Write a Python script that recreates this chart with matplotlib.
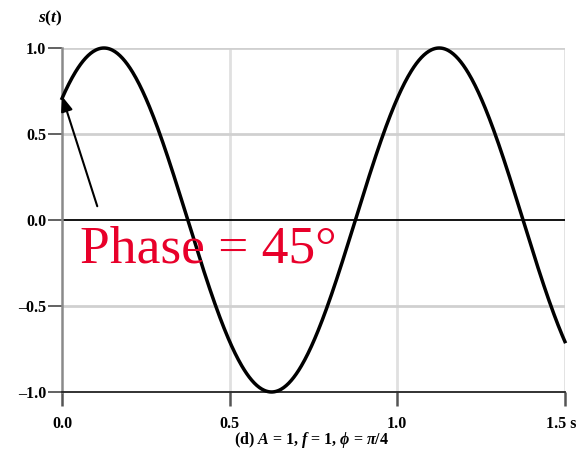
import numpy as np
import matplotlib
matplotlib.use("Agg")
import matplotlib.pyplot as plt
import matplotlib.transforms as mtransforms

# Parameters from the caption (d) A = 1, f = 1, phi = pi/4
A = 1.0
f = 1.0
phi = np.pi / 4
t_range = [0.0, 1.5]
xticks = [0.0, 0.5, 1.0, 1.5]
xtick_labels = ["0.0", "0.5", "1.0", "1.5 s"]
yticks = [-1.0, -0.5, 0.0, 0.5, 1.0]
ytick_labels = ["\u20131.0", "\u20130.5", "0.0", "0.5", "1.0"]

plt.rcParams['mathtext.fontset'] = 'custom'
plt.rcParams['mathtext.rm'] = 'Liberation Serif:bold'
plt.rcParams['mathtext.it'] = 'Liberation Serif:bold:italic'
plt.rcParams['mathtext.bf'] = 'Liberation Serif:bold'

t = np.linspace(t_range[0], t_range[1], 600)
s = A * np.sin(2 * np.pi * f * t + phi)

fig = plt.figure(figsize=(5.8, 4.55), dpi=100)
ax = fig.add_axes([0.107, 0.1385, 0.867, 0.756])

ax.set_xlim(t_range)
ax.set_ylim(-1, 1)

# grid
for x in [0.5, 1.0, 1.5]:
    ax.axvline(x, color='#e0e0e0', lw=2, zorder=0)
for y in [-0.5, 0.5, 1.0]:
    ax.axhline(y, color='#d0d0d0', lw=2, zorder=0)
ax.axhline(0, color='black', lw=1.3, zorder=1)

ax.plot(t, s, color='black', lw=2.5, clip_on=False, zorder=3)

for sp in ['top', 'right']:
    ax.spines[sp].set_visible(False)
ax.spines['left'].set_color('#8a8a8a')
ax.spines['left'].set_linewidth(1.8)
ax.spines['bottom'].set_color('#222222')
ax.spines['bottom'].set_linewidth(1.3)

ax.set_xticks(xticks)
ax.set_xticklabels(xtick_labels, fontfamily='Liberation Serif', fontweight='bold', fontsize=11.5)
ax.set_yticks(yticks)
ax.set_yticklabels(ytick_labels, fontfamily='Liberation Serif', fontweight='bold', fontsize=11.5)
ax.tick_params(axis='x', length=10, width=1.8, color='#555555', pad=7)
ax.tick_params(axis='y', length=10, width=1.3, color='#555555', pad=1.5)
lbl = ax.xaxis.get_majorticklabels()[-1]
lbl.set_horizontalalignment('right')
lbl.set_transform(lbl.get_transform() +
                  mtransforms.ScaledTranslation(11 / 100, 0, fig.dpi_scale_trans))

fig.text(50 / 580, 1 - 18 / 455, r"$s(t)$", ha='center', va='center', fontsize=12.5)
fig.text(312 / 580, 1 - 440 / 455, r"(d) $\mathit{A}$ = 1, $\mathit{f}$ = 1, $\phi$ = $\pi$/4",
         ha='center', va='center', fontsize=11.5, fontfamily='Liberation Serif', fontweight='bold')

ax.text(0.055, -0.245, "Phase = 45\u00b0", color='#e8002a', fontsize=38.5,
        fontfamily='Liberation Serif', ha='left', va='baseline', zorder=4)

ax.annotate("", xy=(0.0, 0.72), xytext=(0.105, 0.08),
            arrowprops=dict(arrowstyle='-|>,head_length=0.9,head_width=0.35',
                            color='black', lw=1.5, shrinkA=0, shrinkB=0),
            annotation_clip=False, zorder=5)

fig.savefig("out.png", dpi=100)
